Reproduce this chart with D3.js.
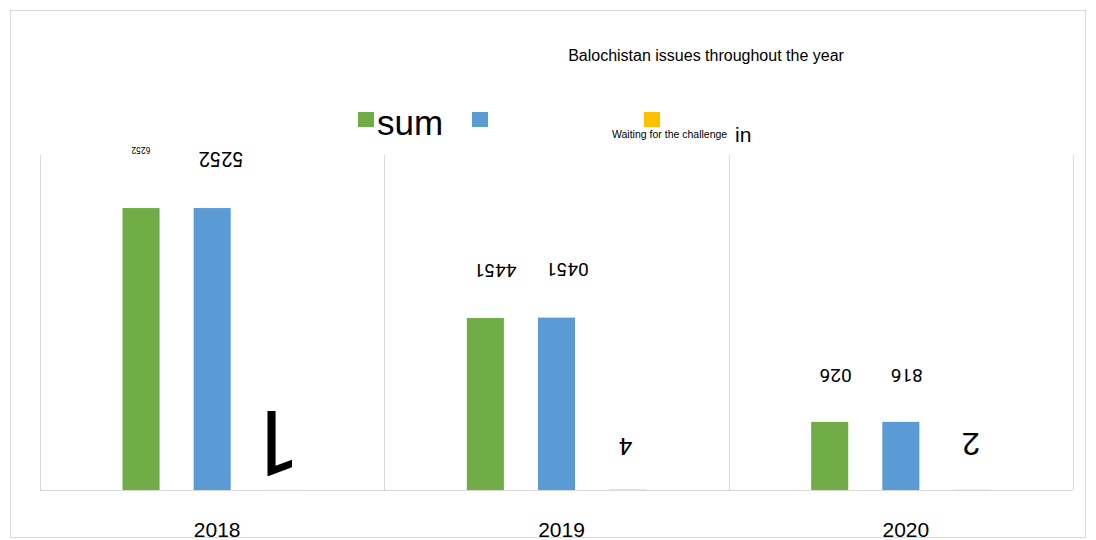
<!DOCTYPE html>
<html>
<head>
<meta charset="utf-8">
<script src="https://cdn.jsdelivr.net/npm/d3@7"></script>
<style>
  body { margin: 0; background: #fff; }
</style>
</head>
<body>
<div id="chart"></div>
<script>
// categories and series
var years = ["2018", "2019", "2020"];
var seriesNames = ["sum", "", "Waiting for the challenge"];
var seriesColors = ["#70ad47", "#5b9bd5", "#ffc000"];

var sumValues = [2525, 1540, 610];
var blueValues = [2525, 1544, 610];
var waitValues = [1, 4, 2];

// the data labels as typed (they are drawn upside down)
var sumLabels = ["6252", "4451", "026"];
var blueLabels = ["5252", "0451", "816"];
var waitLabels = ["1", "4", "2"];
var sumLabelSizes = [8.5, 19, 19];
var blueLabelSizes = [20, 19, 19];
var waitLabelSizes = [90, 24, 32];

var width = 1096, height = 540;
var font = "Arial, 'Liberation Sans', sans-serif";

var svg = d3.select("#chart")
    .append("svg")
    .attr("width", width)
    .attr("height", height)
    .attr("font-family", font);

// outer frame
svg.append("rect")
    .attr("x", 10.5).attr("y", 10.5)
    .attr("width", 1075).attr("height", 527)
    .attr("fill", "none")
    .attr("stroke", "#d9d9d9");

var x = d3.scaleBand()
    .domain(years)
    .range([40, 1073])
    .padding(0);

var inner = d3.scaleBand()
    .domain([0, 1, 2])
    .range([0, x.bandwidth()])
    .paddingInner(0.479)
    .paddingOuter(1.16);

var y = d3.scaleLinear()
    .domain([0, 3000])
    .range([490, 155]);

// vertical grid lines between categories
var edges = years.map(function (d) { return x(d); }).concat([x(years[2]) + x.bandwidth()]);
svg.selectAll("gridLines")
    .data(edges)
    .enter()
    .append("line")
    .attr("x1", function (d) { return Math.round(d) + 0.5; })
    .attr("x2", function (d) { return Math.round(d) + 0.5; })
    .attr("y1", y(3000))
    .attr("y2", y(0))
    .attr("stroke", "#d9d9d9")
    .attr("stroke-width", 1);

svg.append("line")
    .attr("x1", 40).attr("x2", 1073)
    .attr("y1", y(0) + 0.5).attr("y2", y(0) + 0.5)
    .attr("stroke", "#d9d9d9");

var allSeries = [sumValues, blueValues, waitValues];
var allLabels = [sumLabels, blueLabels, waitLabels];
var allSizes = [sumLabelSizes, blueLabelSizes, waitLabelSizes];
// label offsets from the top centre of each bar: [year][series]
var labelDx = [[0, 9, -9], [10, 11, -2], [6, 6, -1]];
var labelGap = [[58, 49, 48], [48, 48, 44], [46, 46, 46]];

var bars = [];
allSeries.forEach(function (vals, s) {
    vals.forEach(function (v, i) {
        bars.push({
            s: s, year: years[i], value: v,
            label: allLabels[s][i], size: allSizes[s][i],
            dx: labelDx[i][s], gap: labelGap[i][s]
        });
    });
});

svg.selectAll("allBars")
    .data(bars)
    .enter()
    .append("rect")
    .attr("x", function (d) { return x(d.year) + inner(d.s); })
    .attr("y", function (d) { return y(d.value); })
    .attr("width", inner.bandwidth())
    .attr("height", function (d) { return y(0) - y(d.value); })
    .attr("fill", function (d) { return seriesColors[d.s]; });

// upside-down data labels
svg.selectAll("allLabels")
    .data(bars)
    .enter()
    .append("text")
    .attr("transform", function (d) {
        var cx = x(d.year) + inner(d.s) + inner.bandwidth() / 2 + d.dx;
        var cy = y(d.value) - d.gap;
        return "translate(" + cx + "," + cy + ") rotate(180)";
    })
    .attr("text-anchor", "middle")
    .attr("dominant-baseline", "central")
    .attr("font-family", "Roboto, Arial, sans-serif")
    .style("font-size", function (d) { return d.size + "px"; })
    .attr("fill", "#000")
    .text(function (d) { return d.label; });

// category labels
svg.selectAll("yearLabels")
    .data(years)
    .enter()
    .append("text")
    .attr("x", function (d) { return x(d) + x.bandwidth() / 2 + 5; })
    .attr("y", 537)
    .attr("text-anchor", "middle")
    .style("font-size", "21px")
    .text(function (d) { return d; });

// title
svg.append("text")
    .attr("x", 706)
    .attr("y", 61)
    .attr("text-anchor", "middle")
    .style("font-size", "16px")
    .text("Balochistan issues throughout the year");

// legend
var legendX = [358, 472, 644];
var legendY = [112, 112, 112];
seriesColors.forEach(function (c, i) {
    svg.append("rect")
        .attr("x", legendX[i]).attr("y", legendY[i])
        .attr("width", 16).attr("height", 15)
        .attr("fill", c);
});
svg.append("text")
    .attr("x", 377).attr("y", 135)
    .style("font-size", "35px")
    .text(seriesNames[0]);
svg.append("text")
    .attr("x", 612).attr("y", 138)
    .style("font-size", "10.5px")
    .text(seriesNames[2]);
svg.append("text")
    .attr("x", 735).attr("y", 142)
    .style("font-size", "21px")
    .text("in");
</script>
</body>
</html>
